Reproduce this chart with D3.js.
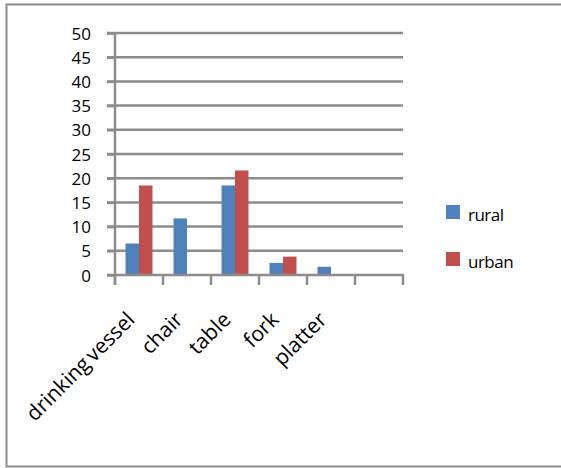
<!DOCTYPE html>
<html>
<head>
<meta charset="utf-8">
<script src="https://cdn.jsdelivr.net/npm/d3@7"></script>
<style>
  body { margin: 0; background: #fff; }
  text { font-family: "Open Sans", Lato, sans-serif; fill: #000; }
</style>
</head>
<body>
<div id="container"></div>
<script>
// data
const categories = ["drinking vessel", "chair", "table", "fork", "platter", ""];
const series = ["rural", "urban"];
const rural = [6.5, 11.7, 18.5, 2.5, 1.7, 0];
const urban = [18.5, 0, 21.6, 3.8, 0, 0];
const yTicks = [0, 5, 10, 15, 20, 25, 30, 35, 40, 45, 50];
const colors = ["#4F81BD", "#C0504D"];

const width = 561, height = 468;
const plot = { left: 115, right: 403, top: 33, bottom: 275 };

const svg = d3.select("#container")
  .append("svg")
  .attr("width", width)
  .attr("height", height);

// outer chart border
svg.append("rect")
  .attr("x", 6.5).attr("y", 4.5)
  .attr("width", 620).attr("height", 462)
  .attr("fill", "none")
  .attr("stroke", "#8c8c8c")
  .attr("stroke-width", 2);

const x = d3.scaleBand()
  .domain(d3.range(categories.length))
  .range([plot.left, plot.right]);

const xInner = d3.scaleBand()
  .domain(series)
  .range([10.5, x.bandwidth() - 10.5]);

const y = d3.scaleLinear()
  .domain([0, 50])
  .range([plot.bottom, plot.top]);

// gridlines
svg.append("g")
  .selectAll("line")
  .data(yTicks.slice(1))
  .join("line")
  .attr("x1", plot.left - 8)
  .attr("x2", plot.right)
  .attr("y1", d => y(d))
  .attr("y2", d => y(d))
  .attr("stroke", "#8c8c8c")
  .attr("stroke-width", 2.5);

// bars
const rows = categories.map((c, i) => ({ i, values: [rural[i], urban[i]] }));
svg.append("g")
  .selectAll("g")
  .data(rows)
  .join("g")
  .attr("transform", d => `translate(${x(d.i)},0)`)
  .selectAll("rect")
  .data(d => d.values.map((v, k) => ({ k, v })))
  .join("rect")
  .attr("x", d => xInner(series[d.k]))
  .attr("width", xInner.bandwidth())
  .attr("y", d => y(d.v))
  .attr("height", d => y(0) - y(d.v))
  .attr("fill", d => colors[d.k]);

// y axis
const yAxis = svg.append("g")
  .attr("transform", `translate(${plot.left},0)`)
  .call(d3.axisLeft(y).tickValues(yTicks).tickSize(8).tickPadding(16));
yAxis.select(".domain").remove();
yAxis.selectAll("line").attr("stroke", "#8c8c8c").attr("stroke-width", 2.5);
yAxis.selectAll("text")
  .style("font-size", "17px")
  .style("font-family", "'Open Sans', sans-serif")
  .attr("dy", "0.36em");
yAxis.append("line")
  .attr("y1", plot.top - 1).attr("y2", plot.bottom + 10)
  .attr("stroke", "#8c8c8c").attr("stroke-width", 2.5);

// x axis
const xAxis = svg.append("g")
  .attr("transform", `translate(0,${plot.bottom})`);
xAxis.append("line")
  .attr("x1", plot.left - 8).attr("x2", plot.right + 1)
  .attr("stroke", "#8c8c8c").attr("stroke-width", 2.5);
xAxis.selectAll(".tick")
  .data(d3.range(categories.length + 1))
  .join("line")
  .attr("x1", d => plot.left + d * x.step())
  .attr("x2", d => plot.left + d * x.step())
  .attr("y1", 0).attr("y2", 10)
  .attr("stroke", "#8c8c8c").attr("stroke-width", 2.5);
xAxis.selectAll("text")
  .data(categories)
  .join("text")
  .attr("text-anchor", "end")
  .attr("transform", (d, i) => `translate(${x(i) + x.bandwidth() / 2 - 3},${46}) rotate(-45)`)
  .style("font-size", "21px")
  .style("word-spacing", "-2px")
  .text(d => d);

// legend
const legend = svg.append("g")
  .selectAll("g")
  .data(series)
  .join("g")
  .attr("transform", (d, i) => `translate(446,${205 + i * 47})`);
legend.append("rect")
  .attr("width", 14).attr("height", 14)
  .attr("fill", (d, i) => colors[i]);
legend.append("text")
  .attr("x", 22).attr("y", 16)
  .style("font-size", "17px")
  .style("letter-spacing", "-0.5px")
  .text(d => d);
</script>
</body>
</html>
